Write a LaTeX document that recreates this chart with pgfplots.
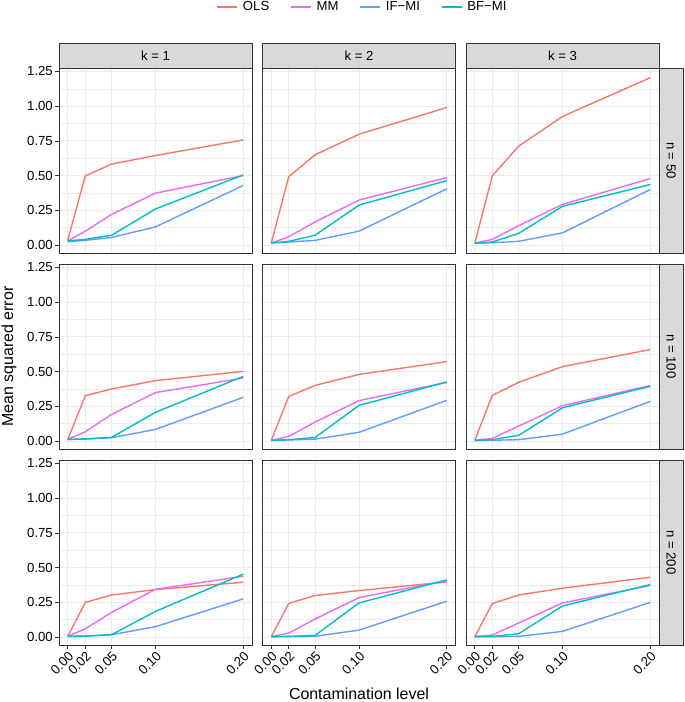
\documentclass[border=0pt]{standalone}
\usepackage{pgfplots}
\pgfplotsset{compat=1.18}
\usepackage{fontspec}
\setmainfont{Liberation Sans}
\definecolor{olsc}{HTML}{F8766D}
\definecolor{mmc}{HTML}{E76BF3}
\definecolor{ifc}{HTML}{619CFF}
\definecolor{bfc}{HTML}{00BFC4}
\definecolor{gridc}{HTML}{EBEBEB}
\definecolor{stripc}{HTML}{D9D9D9}
\definecolor{borderc}{HTML}{333333}
\pgfplotsset{legend image code/.code={\draw[#1,line width=1.4bp] (0bp,0bp) -- (20bp,0bp);}}
\pgfplotsset{
 panel/.style={scale only axis, width=193bp, height=185bp, anchor=south west,
  xmin=-0.01, xmax=0.21, ymin=-0.057, ymax=1.275,
  xtick={0,0.02,0.05,0.1,0.2}, xticklabels={0.00,0.02,0.05,0.10,0.20},
  ytick={0,0.25,0.5,0.75,1,1.25}, yticklabels={0.00,0.25,0.50,0.75,1.00,1.25},
  minor ytick={0.125,0.375,0.625,0.875,1.125},
  xmajorgrids, ymajorgrids, yminorgrids,
  major grid style={gridc, line width=1bp},
  minor grid style={gridc, line width=0.5bp},
  axis line style={borderc, line width=0.8bp},
  tick align=outside, xtick pos=bottom, ytick pos=left,
  major tick length=4bp, minor tick length=0bp,
  tick style={borderc, line width=0.7bp},
  ticklabel style={font=\fontsize{13.2}{15}\selectfont, text=black},
  yticklabel style={inner sep=2bp},
  xticklabel style={rotate=45, anchor=north east, inner sep=1bp},
  every axis plot/.append style={line width=1.4bp, line join=round},
 },
 noy/.style={yticklabels={}, ytick style={draw=none}},
 nox/.style={xticklabels={}, xtick style={draw=none}},
}
\begin{document}
\begin{tikzpicture}
\useasboundingbox (0,0) rectangle (685bp,702bp);
% ---------- row 1: n = 50 ----------
\begin{axis}[panel, at={(59bp,449bp)}, nox]
\addplot[olsc] coordinates {(0,0.035)(0.02,0.498)(0.05,0.583)(0.1,0.645)(0.2,0.757)};
\addplot[mmc] coordinates {(0,0.03)(0.02,0.10)(0.05,0.221)(0.1,0.374)(0.2,0.50)};
\addplot[ifc] coordinates {(0,0.025)(0.02,0.034)(0.05,0.055)(0.1,0.131)(0.2,0.429)};
\addplot[bfc] coordinates {(0,0.03)(0.02,0.041)(0.05,0.071)(0.1,0.26)(0.2,0.505)};
\end{axis}
\begin{axis}[panel, at={(262.5bp,449bp)}, nox, noy,
  legend entries={OLS,MM,IF−MI,BF−MI}, legend columns=4,
  legend style={at={(axis description cs:0.526,1.33)}, anchor=center, draw=none, fill=none,
   font=\fontsize{13.2}{15}\selectfont, nodes={inner xsep=5bp},
   /tikz/every even column/.append style={column sep=16bp}}]
\addplot[olsc] coordinates {(0,0.015)(0.02,0.493)(0.05,0.65)(0.1,0.798)(0.2,0.99)};
\addplot[mmc] coordinates {(0,0.015)(0.02,0.06)(0.05,0.167)(0.1,0.324)(0.2,0.486)};
\addplot[ifc] coordinates {(0,0.015)(0.02,0.022)(0.05,0.034)(0.1,0.10)(0.2,0.405)};
\addplot[bfc] coordinates {(0,0.015)(0.02,0.027)(0.05,0.071)(0.1,0.288)(0.2,0.464)};
\end{axis}
\begin{axis}[panel, at={(466bp,449bp)}, nox, noy]
\addplot[olsc] coordinates {(0,0.014)(0.02,0.498)(0.05,0.712)(0.1,0.926)(0.2,1.205)};
\addplot[mmc] coordinates {(0,0.014)(0.02,0.041)(0.05,0.14)(0.1,0.293)(0.2,0.479)};
\addplot[ifc] coordinates {(0,0.014)(0.02,0.017)(0.05,0.027)(0.1,0.088)(0.2,0.40)};
\addplot[bfc] coordinates {(0,0.014)(0.02,0.022)(0.05,0.084)(0.1,0.279)(0.2,0.436)};
\end{axis}
% ---------- row 2: n = 100 ----------
\begin{axis}[panel, at={(59bp,253bp)}, nox]
\addplot[olsc] coordinates {(0,0.012)(0.02,0.327)(0.05,0.375)(0.1,0.435)(0.2,0.502)};
\addplot[mmc] coordinates {(0,0.012)(0.02,0.067)(0.05,0.192)(0.1,0.349)(0.2,0.454)};
\addplot[ifc] coordinates {(0,0.012)(0.02,0.014)(0.05,0.024)(0.1,0.084)(0.2,0.315)};
\addplot[bfc] coordinates {(0,0.012)(0.02,0.016)(0.05,0.027)(0.1,0.207)(0.2,0.466)};
\end{axis}
\begin{axis}[panel, at={(262.5bp,253bp)}, nox, noy]
\addplot[olsc] coordinates {(0,0.005)(0.02,0.322)(0.05,0.401)(0.1,0.48)(0.2,0.572)};
\addplot[mmc] coordinates {(0,0.005)(0.02,0.034)(0.05,0.137)(0.1,0.291)(0.2,0.423)};
\addplot[ifc] coordinates {(0,0.005)(0.02,0.008)(0.05,0.014)(0.1,0.063)(0.2,0.293)};
\addplot[bfc] coordinates {(0,0.005)(0.02,0.01)(0.05,0.026)(0.1,0.257)(0.2,0.425)};
\end{axis}
\begin{axis}[panel, at={(466bp,253bp)}, nox, noy]
\addplot[olsc] coordinates {(0,0.005)(0.02,0.329)(0.05,0.423)(0.1,0.536)(0.2,0.659)};
\addplot[mmc] coordinates {(0,0.005)(0.02,0.019)(0.05,0.108)(0.1,0.255)(0.2,0.40)};
\addplot[ifc] coordinates {(0,0.005)(0.02,0.006)(0.05,0.01)(0.1,0.05)(0.2,0.286)};
\addplot[bfc] coordinates {(0,0.005)(0.02,0.01)(0.05,0.041)(0.1,0.24)(0.2,0.394)};
\end{axis}
% ---------- row 3: n = 200 ----------
\begin{axis}[panel, at={(59bp,57bp)}]
\addplot[olsc] coordinates {(0,0.005)(0.02,0.25)(0.05,0.303)(0.1,0.342)(0.2,0.395)};
\addplot[mmc] coordinates {(0,0.005)(0.02,0.06)(0.05,0.178)(0.1,0.344)(0.2,0.438)};
\addplot[ifc] coordinates {(0,0.005)(0.02,0.006)(0.05,0.017)(0.1,0.075)(0.2,0.275)};
\addplot[bfc] coordinates {(0,0.005)(0.02,0.008)(0.05,0.017)(0.1,0.185)(0.2,0.453)};
\end{axis}
\begin{axis}[panel, at={(262.5bp,57bp)}, noy]
\addplot[olsc] coordinates {(0,0.003)(0.02,0.243)(0.05,0.299)(0.1,0.335)(0.2,0.397)};
\addplot[mmc] coordinates {(0,0.003)(0.02,0.029)(0.05,0.13)(0.1,0.284)(0.2,0.407)};
\addplot[ifc] coordinates {(0,0.003)(0.02,0.004)(0.05,0.006)(0.1,0.05)(0.2,0.258)};
\addplot[bfc] coordinates {(0,0.003)(0.02,0.005)(0.05,0.012)(0.1,0.246)(0.2,0.412)};
\end{axis}
\begin{axis}[panel, at={(466bp,57bp)}, noy]
\addplot[olsc] coordinates {(0,0.003)(0.02,0.241)(0.05,0.303)(0.1,0.352)(0.2,0.431)};
\addplot[mmc] coordinates {(0,0.003)(0.02,0.015)(0.05,0.101)(0.1,0.246)(0.2,0.371)};
\addplot[ifc] coordinates {(0,0.003)(0.02,0.003)(0.05,0.005)(0.1,0.041)(0.2,0.25)};
\addplot[bfc] coordinates {(0,0.003)(0.02,0.005)(0.05,0.024)(0.1,0.224)(0.2,0.378)};
\end{axis}
% ---------- strips ----------
\begin{scope}[draw=borderc, line width=0.8bp]
\draw[fill=stripc] (59bp,634bp) rectangle (252bp,659bp);
\draw[fill=stripc] (262.5bp,634bp) rectangle (455.5bp,659bp);
\draw[fill=stripc] (466bp,634bp) rectangle (659bp,659bp);
\draw[fill=stripc] (659bp,449bp) rectangle (683.5bp,634bp);
\draw[fill=stripc] (659bp,253bp) rectangle (683.5bp,438bp);
\draw[fill=stripc] (659bp,57bp) rectangle (683.5bp,242bp);
\end{scope}
\begin{scope}[font=\fontsize{13.2}{15}\selectfont]
\node at (155.5bp,646.5bp) {k = 1};
\node at (359bp,646.5bp) {k = 2};
\node at (562.5bp,646.5bp) {k = 3};
\node[rotate=-90] at (671.25bp,541.5bp) {n = 50};
\node[rotate=-90] at (671.25bp,345.5bp) {n = 100};
\node[rotate=-90] at (671.25bp,149.5bp) {n = 200};
\end{scope}
\node[rotate=90, font=\fontsize{16}{18}\selectfont] at (9bp,345.5bp) {Mean squared error};
\node[font=\fontsize{16}{18}\selectfont] at (359bp,8bp) {Contamination level};
\end{tikzpicture}
\end{document}
